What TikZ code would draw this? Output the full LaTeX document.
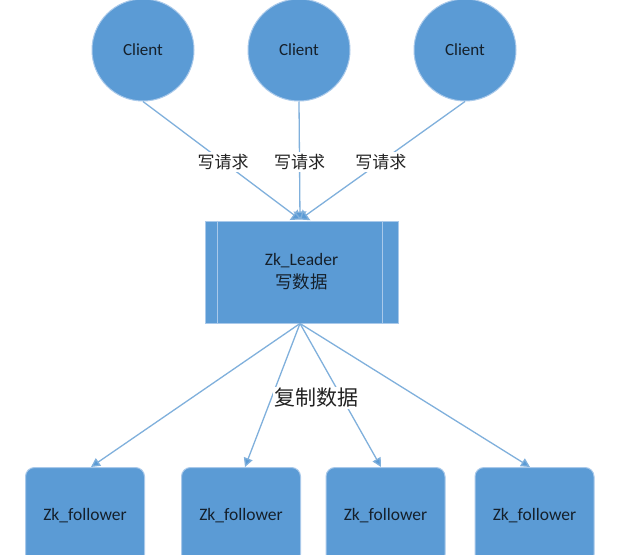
\documentclass[tikz,border=0pt]{standalone}
\usepackage{fontspec}
\setmainfont{Carlito}
\newfontfamily\cjk{Noto Sans CJK SC}
\usetikzlibrary{arrows.meta}
\definecolor{fillb}{HTML}{5B9BD5}
\definecolor{edgeb}{HTML}{A9C9EA}
\definecolor{lineb}{HTML}{80B0DC}
\definecolor{txt}{HTML}{15202B}
\definecolor{lbltxt}{HTML}{222222}
\begin{document}
\begin{tikzpicture}[x=1pt,y=-1pt,
  client/.style={circle, minimum size=102pt, inner sep=0pt, fill=fillb, draw=edgeb, line width=1pt,
    text=txt, font=\fontsize{17}{17}\selectfont},
  leader/.style={rectangle, minimum width=193pt, minimum height=102pt, inner sep=0pt, fill=fillb,
    draw=edgeb, line width=1pt, text=txt, align=center, font=\fontsize{17.5}{23}\selectfont},
  follower/.style={rectangle, rounded corners=9pt, minimum width=119pt, minimum height=96pt, inner sep=0pt,
    fill=fillb, draw=edgeb, line width=1pt, text=txt, font=\fontsize{17.5}{17.5}\selectfont},
  req/.style={fill=white, inner sep=2pt, text=lbltxt, font=\cjk\fontsize{17}{17}\selectfont},
  copylbl/.style={fill=white, inner sep=1pt, text=lbltxt, font=\cjk\fontsize{21}{21}\selectfont},
  conn/.style={draw=lineb, line width=1.3pt},
  intip/.style={-{Triangle[length=8pt,width=13pt,fill=fillb]}, conn},
  outtip/.style={-{Triangle[length=9pt,width=9pt,fill=fillb]}, conn}
]
\clip (0,0) rectangle (620,554);
\fill[white] (0,0) rectangle (620,554);

% clients
\node[client] (c1) at (143,50) {Client};
\node[client] (c2) at (299,50) {Client};
\node[client] (c3) at (465,50) {Client};

% leader
\node[leader] (L) at (301.5,272) {Zk\_Leader\\{\cjk 写数据}};
\draw[edgeb, line width=1pt] ([xshift=13pt]L.north west) -- ([xshift=13pt]L.south west);
\draw[edgeb, line width=1pt] ([xshift=-16pt]L.north east) -- ([xshift=-16pt]L.south east);

% followers
\node[follower, anchor=north] (f1) at (85,467) {Zk\_follower};
\node[follower, anchor=north] (f2) at (241,467) {Zk\_follower};
\node[follower, anchor=north] (f3) at (385.5,467) {\raisebox{-5pt}{Zk\_follower}};
\node[follower, anchor=north] (f4) at (534.5,467) {Zk\_follower};

% client -> leader
\draw[intip] (c1.south) -- node[req, pos=0.51] (r1) {写请求} ([xshift=-1.5pt,yshift=1pt]L.north);
\draw[intip] (c2.south) -- node[req, pos=0.51] (r2) {写请求} ([xshift=-1.5pt,yshift=1pt]L.north);
\draw[intip] (c3.south) -- node[req, pos=0.51] (r3) {写请求} ([xshift=-1.5pt,yshift=1pt]L.north);

% leader -> followers
\coordinate (Ls) at ([xshift=-1.5pt]L.south);
\draw[outtip] (Ls) -- ([xshift=6pt]f1.north);
\draw[outtip] (Ls) -- ([xshift=4pt]f2.north);
\draw[outtip] (Ls) -- ([xshift=-4.5pt]f3.north);
\draw[outtip] (Ls) -- ([xshift=-4.5pt]f4.north);

\node[copylbl] (cp) at (316,398) {复制数据};
\end{tikzpicture}
\end{document}
